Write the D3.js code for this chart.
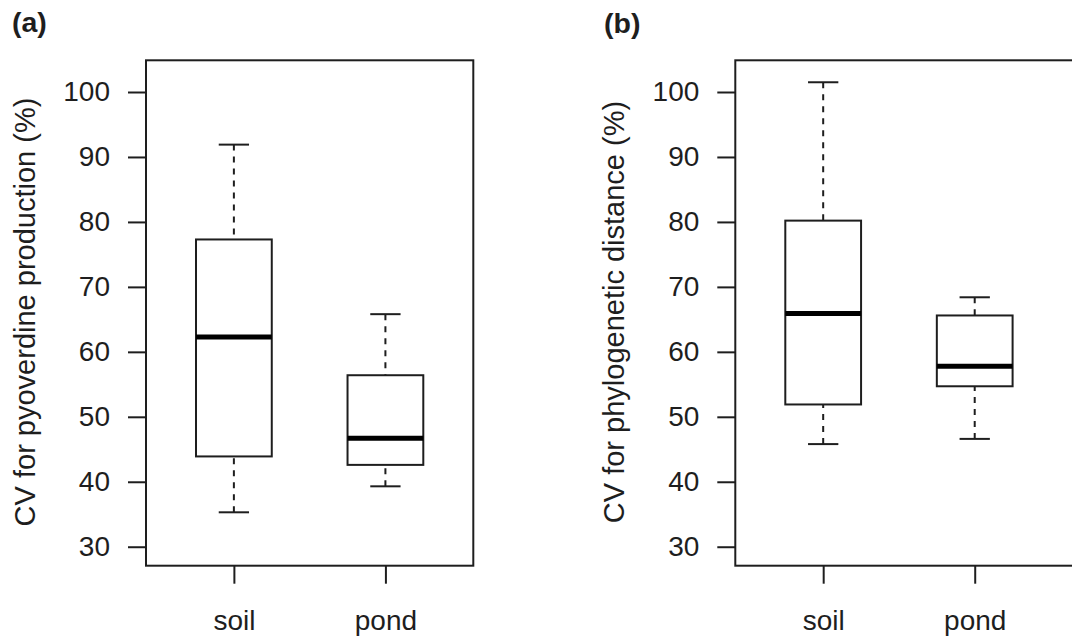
<!DOCTYPE html>
<html>
<head>
<meta charset="utf-8">
<script src="https://cdn.jsdelivr.net/npm/d3@7"></script>
<style>
  body { margin: 0; background: #fff; }
  svg { display: block; font-family: "Liberation Sans", Arial, Helvetica, sans-serif; }
</style>
</head>
<body>
<script>
// five-number summaries: [low whisker, q1, median, q3, high whisker]
var groups = ["soil", "pond"];
var pyoSoil = [35.3, 43.9, 62.3, 77.3, 91.9];
var pyoPond = [39.3, 42.6, 46.7, 56.4, 65.8];
var phySoil = [45.8, 51.9, 65.9, 80.2, 101.5];
var phyPond = [46.6, 54.7, 57.8, 65.6, 68.4];
var yTicks = [30, 40, 50, 60, 70, 80, 90, 100];

var width = 1072, height = 639;
var svg = d3.select("body").append("svg").attr("width", width).attr("height", height);

var ink = "#1e1e1e";
var plotTop = 60.3, plotBottom = 565.7;
var y = d3.scaleLinear().domain([27.08, 104.88]).range([plotBottom, plotTop]);

var panels = [
  { tag: "(a)", tagX: 12, tagY: 32, left: 146, frameRight: 473.3, labX: 35,
    label: "CV for pyoverdine production (%)", stats: [pyoSoil, pyoPond] },
  { tag: "(b)", tagX: 604, tagY: 33, left: 735.3, frameRight: 1085, labX: 623.7,
    label: "CV for phylogenetic distance (%)", stats: [phySoil, phyPond] }
];

panels.forEach(drawPanel);

function drawPanel(p) {
  var x = d3.scaleLinear().domain([0.42, 2.58]).range([p.left, p.left + 327.3]);
  var g = svg.append("g");

  g.append("text").attr("x", p.tagX).attr("y", p.tagY)
    .attr("font-size", 28.5).attr("font-weight", "bold").attr("fill", ink)
    .text(p.tag);

  g.append("text")
    .attr("transform", "translate(" + p.labX + "," + 312 + ") rotate(-90)")
    .attr("text-anchor", "middle").attr("font-size", 29).attr("fill", ink)
    .text(p.label);

  var yAxis = g.append("g").attr("transform", "translate(" + p.left + ",0)")
    .call(d3.axisLeft(y).tickValues(yTicks).tickSize(18).tickPadding(18));
  yAxis.select(".domain").remove();
  yAxis.selectAll("line").attr("stroke", ink).attr("stroke-width", 2);
  yAxis.selectAll("text").attr("font-size", 28).attr("fill", ink)
    .attr("font-family", "Liberation Sans, Arial, sans-serif");

  var xAxis = g.append("g").attr("transform", "translate(0," + plotBottom + ")")
    .call(d3.axisBottom(x).tickValues([1, 2]).tickSize(18).tickPadding(26.4)
      .tickFormat(function(d) { return groups[d - 1]; }));
  xAxis.select(".domain").remove();
  xAxis.selectAll("line").attr("stroke", ink).attr("stroke-width", 2);
  xAxis.selectAll("text").attr("font-size", 28).attr("fill", ink)
    .attr("font-family", "Liberation Sans, Arial, sans-serif");

  var boxW = x(1.25) - x(0.75);
  var capW = x(1.1) - x(0.9);

  var box = g.selectAll(".bx").data(p.stats).enter().append("g").attr("class", "bx");

  box.append("line") // upper whisker
    .attr("x1", function(d, i) { return x(i + 1); }).attr("x2", function(d, i) { return x(i + 1); })
    .attr("y1", function(d) { return y(d[4]); }).attr("y2", function(d) { return y(d[3]); })
    .attr("stroke", ink).attr("stroke-width", 2).attr("stroke-dasharray", "6,6");
  box.append("line") // lower whisker
    .attr("x1", function(d, i) { return x(i + 1); }).attr("x2", function(d, i) { return x(i + 1); })
    .attr("y1", function(d) { return y(d[0]); }).attr("y2", function(d) { return y(d[1]); })
    .attr("stroke", ink).attr("stroke-width", 2).attr("stroke-dasharray", "6,6");

  [0, 4].forEach(function(k) {
    box.append("line")
      .attr("x1", function(d, i) { return x(i + 1) - capW / 2; })
      .attr("x2", function(d, i) { return x(i + 1) + capW / 2; })
      .attr("y1", function(d) { return y(d[k]); }).attr("y2", function(d) { return y(d[k]); })
      .attr("stroke", ink).attr("stroke-width", 2);
  });

  box.append("rect")
    .attr("x", function(d, i) { return x(i + 1) - boxW / 2; })
    .attr("y", function(d) { return y(d[3]); })
    .attr("width", boxW)
    .attr("height", function(d) { return y(d[1]) - y(d[3]); })
    .attr("fill", "#fff").attr("stroke", ink).attr("stroke-width", 2);

  box.append("line")
    .attr("x1", function(d, i) { return x(i + 1) - boxW / 2; })
    .attr("x2", function(d, i) { return x(i + 1) + boxW / 2; })
    .attr("y1", function(d) { return y(d[2]); }).attr("y2", function(d) { return y(d[2]); })
    .attr("stroke", "#000").attr("stroke-width", 5);

  g.append("rect")
    .attr("x", p.left).attr("y", plotTop)
    .attr("width", p.frameRight - p.left).attr("height", plotBottom - plotTop)
    .attr("fill", "none").attr("stroke", ink).attr("stroke-width", 2);
}
</script>
</body>
</html>
